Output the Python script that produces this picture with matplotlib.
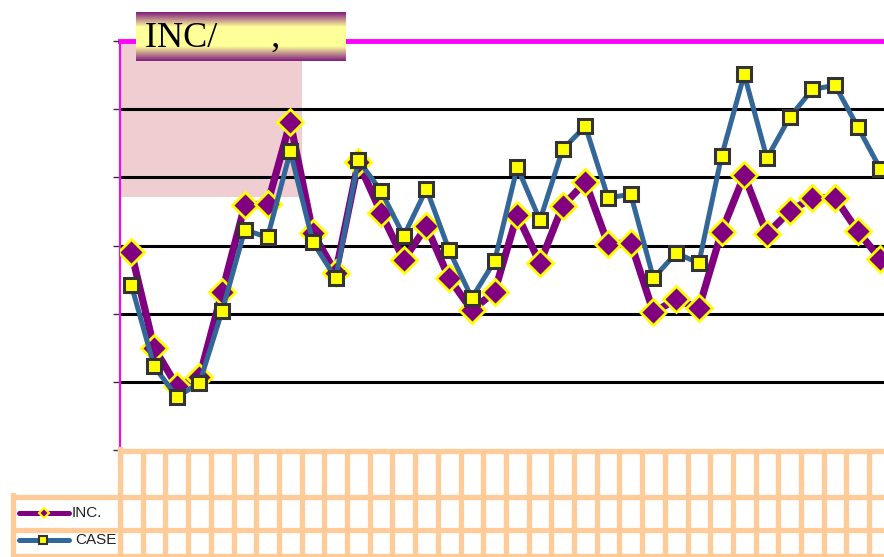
import numpy as np
import matplotlib
matplotlib.use('Agg')
import matplotlib.pyplot as plt
from matplotlib.patches import Rectangle

# valores (unidades = linhas de grade)
inc = [2.90, 1.50, 0.94, 1.07, 2.32, 3.59, 3.61, 4.81, 3.18, 2.60,
       4.22, 3.48, 2.79, 3.28, 2.52, 2.05, 2.32, 3.45, 2.74, 3.58,
       3.93, 3.02, 3.04, 2.02, 2.21, 2.08, 3.20, 4.03, 3.17, 3.50,
       3.70, 3.70, 3.21, 2.80]
case = [2.42, 1.23, 0.78, 0.98, 2.04, 3.23, 3.12, 4.38, 3.05, 2.52,
        4.25, 3.80, 3.14, 3.83, 2.93, 2.23, 2.77, 4.15, 3.37, 4.41,
        4.75, 3.70, 3.75, 2.52, 2.89, 2.74, 4.31, 5.51, 4.28, 4.88,
        5.29, 5.35, 4.74, 4.12]
x = list(range(len(inc)))
series_names = ['INC.', 'CASE']
title_text = 'INC/      ,'

W, H = 884, 557
purple = '#800080'
blue = '#336699'
yellow = '#FFFF00'
peach = '#FFCC99'

fig = plt.figure(figsize=(W / 100, H / 100), dpi=100)

# eixo principal
ax = fig.add_axes([120 / W, 1 - 450 / H, 764 / W, 409 / H])
ax.set_xlim(-0.5, -0.5 + 764 / 22.7)
ax.set_ylim(0, 6)

ax.add_patch(Rectangle((0, 0.619), 0.238, 0.381, transform=ax.transAxes,
                       facecolor='#efcdd0', edgecolor='none', zorder=0))
for yv in range(1, 6):
    ax.axhline(yv, color='black', lw=2.2, zorder=1)
ax.axhline(6, color='magenta', lw=3.5, zorder=1, clip_on=False)

ax.plot(x, inc, color=purple, lw=5.2, marker='D', ms=13, mfc=purple,
        mec=yellow, mew=2, zorder=3)
ax.plot(x, case, color=blue, lw=3.6, marker='s', ms=10, mfc=yellow,
        mec='#333333', mew=2.2, zorder=4)

for s in ['top', 'right', 'bottom']:
    ax.spines[s].set_visible(False)
ax.spines['left'].set_color('magenta')
ax.spines['left'].set_linewidth(1.5)
ax.set_xticks([])
ax.set_yticks(range(0, 7))
ax.set_yticklabels([])
ax.tick_params(axis='y', length=5, width=1, color='#333333', direction='out')

# tabela de dados embaixo
tax = fig.add_axes([120 / W, 0, 764 / W, 107 / H], sharex=ax)
tax.set_ylim(557, 450)
tax.axis('off')
for yl in [451, 497, 530, 556]:
    tax.axhline(yl, color=peach, lw=3.8, clip_on=False)
for i in range(-1, len(x) + 2):
    tax.axvline(i + 0.5, color=peach, lw=3.8)

# parte da legenda (coordenadas em pixels)
lax = fig.add_axes([0, 0, 1, 1])
lax.set_xlim(0, W)
lax.set_ylim(H, 0)
lax.axis('off')
lax.patch.set_alpha(0)
for yl in [497, 530, 556]:
    lax.plot([11, 120], [yl, yl], color=peach, lw=3.8, solid_capstyle='butt')
lax.plot([13, 13], [495, 557], color=peach, lw=3.8)
lax.plot([120, 120], [449, 557], color=peach, lw=3.8)

lax.plot([19, 69], [513, 513], color=purple, lw=3.6, solid_capstyle='round')
lax.plot([44], [513], marker='D', ms=5, mfc=purple, mec=yellow, mew=1.5)
lax.text(72, 513, series_names[0], fontsize=11, va='center',
         family='Liberation Sans', color='#222222')
lax.plot([19, 69], [540, 540], color=blue, lw=3.6, solid_capstyle='round')
lax.plot([43], [540], marker='s', ms=5.5, mfc=yellow, mec='#333333', mew=1.5)
lax.text(75, 540, series_names[1], fontsize=11, va='center',
         family='Liberation Sans', color='#222222')

# caixa do titulo com degrade
bax = fig.add_axes([136 / W, 1 - 61 / H, 210 / W, 49 / H])
t = np.abs(np.linspace(-1, 1, 100))
k = np.clip((t - 0.4) / 0.6, 0, 1)[:, None]
c1 = np.array([1.0, 1.0, 0.6])
c2 = np.array([0.50, 0.12, 0.50])
grad = c1 * (1 - k[:, :, None]) + c2 * k[:, :, None]
grad = np.repeat(grad, 2, axis=1)
bax.imshow(grad, aspect='auto', extent=[0, 1, 0, 1])
bax.set_xlim(0, 1)
bax.set_ylim(0, 1)
bax.axis('off')
bax.text(0.045, 0.47, title_text, fontsize=26, va='center', ha='left',
         family='Liberation Serif', color='black')

fig.savefig('out.png', dpi=100)
